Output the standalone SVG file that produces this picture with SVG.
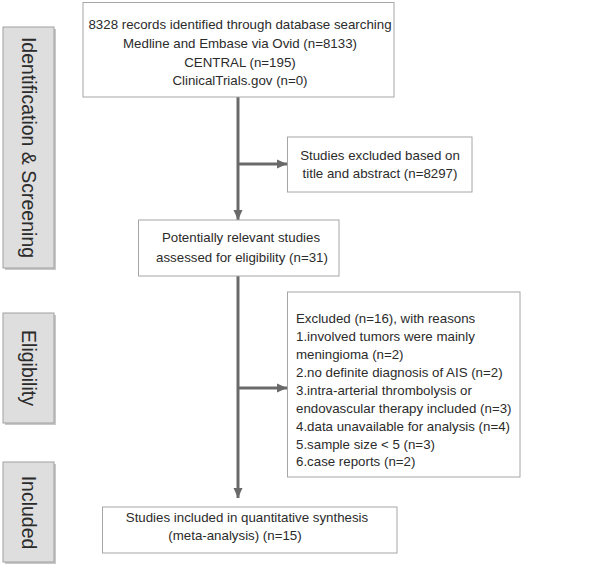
<svg xmlns="http://www.w3.org/2000/svg" width="600" height="566" viewBox="0 0 600 566">
<style>
.box{fill:#fff;stroke:#a6a6a6;stroke-width:1}
.side{fill:#dedede;stroke:#a0a0a0;stroke-width:1}
.shadow{fill:#c8c8c8}
.t{font-family:"Liberation Sans",Arial,sans-serif;font-size:13.3px;fill:#2b2b2b}
.c{text-anchor:middle}
.st{font-family:"Liberation Sans",Arial,sans-serif;font-size:19.5px;fill:#2b2b2b;text-anchor:middle}
.ln{stroke:#6a6a6a;stroke-width:3;fill:none}
</style>
<defs>
<marker id="ah" markerUnits="userSpaceOnUse" markerWidth="10" markerHeight="10" refX="10" refY="5" orient="auto">
<path d="M0,0.5 L10,5 L0,9.5 z" fill="#6a6a6a"/>
</marker>
</defs>
<rect width="600" height="566" fill="#fff"/>
<g id="stage-identification">
<rect class="shadow" x="5" y="29" width="51" height="241"/>
<rect class="side" x="3" y="27" width="51" height="241"/>
<text class="st" transform="translate(22,147.5) rotate(90)">Identification &amp; Screening</text>
</g>
<g id="stage-eligibility">
<rect class="shadow" x="5" y="315" width="51" height="110"/>
<rect class="side" x="3" y="313" width="51" height="110"/>
<text class="st" transform="translate(22,368) rotate(90)">Eligibility</text>
</g>
<g id="stage-included">
<rect class="shadow" x="5" y="464" width="51" height="100"/>
<rect class="side" x="3" y="462" width="51" height="100"/>
<text class="st" transform="translate(22,512.5) rotate(90)">Included</text>
</g>
<g id="connectors">
<line class="ln" x1="238" y1="97" x2="238" y2="220" marker-end="url(#ah)"/>
<line class="ln" x1="238" y1="164" x2="287" y2="164" marker-end="url(#ah)"/>
<line class="ln" x1="238" y1="276" x2="238" y2="498" marker-end="url(#ah)"/>
<line class="ln" x1="238" y1="388" x2="287" y2="388" marker-end="url(#ah)"/>
</g>
<g id="records">
<rect class="box" x="83" y="2.5" width="311" height="94.5"/>
<text class="t c" x="240" y="29">8328 records identified through database searching</text>
<text class="t c" x="240" y="48">Medline and Embase via Ovid (n=8133)</text>
<text class="t c" x="240" y="66.5">CENTRAL (n=195)</text>
<text class="t c" x="240" y="85">ClinicalTrials.gov (n=0)</text>
</g>
<g id="excluded-title">
<rect class="box" x="287.5" y="137" width="184.5" height="55"/>
<text class="t c" x="380" y="160">Studies excluded based on</text>
<text class="t c" x="380" y="178">title and abstract (n=8297)</text>
</g>
<g id="relevant">
<rect class="box" x="138.5" y="220" width="200.5" height="56"/>
<text class="t c" x="241" y="242">Potentially relevant studies</text>
<text class="t c" x="242" y="261.5">assessed for eligibility (n=31)</text>
</g>
<g id="excluded-reasons">
<rect class="box" x="287.5" y="292" width="232.5" height="185"/>
<text class="t" x="296" y="323">Excluded (n=16), with reasons</text>
<text class="t" x="296" y="341">1.involved tumors were mainly</text>
<text class="t" x="296" y="359">meningioma (n=2)</text>
<text class="t" x="296" y="377">2.no definite diagnosis of AIS (n=2)</text>
<text class="t" x="296" y="394.5">3.intra-arterial thrombolysis or</text>
<text class="t" x="296" y="412.5">endovascular therapy included (n=3)</text>
<text class="t" x="296" y="430.5">4.data unavailable for analysis (n=4)</text>
<text class="t" x="296" y="448.5">5.sample size &lt; 5 (n=3)</text>
<text class="t" x="296" y="466">6.case reports (n=2)</text>
</g>
<g id="included">
<rect class="box" x="102.5" y="507" width="294.5" height="46"/>
<text class="t c" x="247" y="522">Studies included in quantitative synthesis</text>
<text class="t c" x="235" y="540">(meta-analysis) (n=15)</text>
</g>
</svg>
